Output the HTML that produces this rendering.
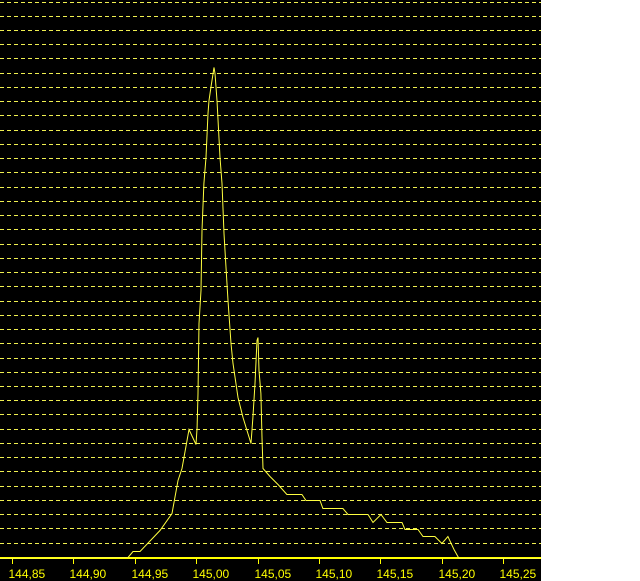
<!DOCTYPE html>
<html><head><meta charset="utf-8"><style>
html,body{margin:0;padding:0;background:#fff;width:640px;height:581px;overflow:hidden}
svg{display:block}
</style></head><body>
<svg id="chart" width="640" height="581" xmlns="http://www.w3.org/2000/svg">
<rect x="0" y="0" width="541" height="581" fill="#000"/>
<g id="grid"></g>
<g id="axis"></g>
<path id="trace" fill="none" stroke="#ffff40" stroke-width="1"/>
</svg>
<script>
const freqs = [144.84,144.9445,144.9485,144.9542,144.9705,144.9803,144.9852,144.9884,144.9941,144.9998,145.0007,145.0015,145.0023,145.0039,145.0047,145.0063,145.0080,145.0096,145.0104,145.0120,145.0145,145.0153,145.0169,145.0177,145.0194,145.0210,145.0226,145.0243,145.0259,145.0283,145.0300,145.0340,145.0381,145.0446,145.0462,145.0479,145.0495,145.0503,145.0511,145.0527,145.0536,145.0544,145.0601,145.0666,145.0739,145.0861,145.0894,145.1008,145.1032,145.1195,145.1236,145.1399,145.1440,145.1505,145.1554,145.1676,145.1700,145.1806,145.1847,145.1944,145.2001,145.2050,145.2099,145.2140,145.28];
const levels = [0,1,7,7,28,45,78,90,129,114,131,165,235,268,328,375,401,445,458,471,491,485,458,441,401,375,325,291,258,215,195,161,141,115,141,175,218,221,188,165,121,90,82,74,64,64,58,58,50,50,44,44,36,44,36,36,29,29,22,22,15,22,9,0,0];
const tickValues = [144.85,144.90,144.95,145.00,145.05,145.10,145.15,145.20,145.25];
const tickLabels = ["144,85","144,90","144,95","145,00","145,05","145,10","145,15","145,20","145,25"];

const NS="http://www.w3.org/2000/svg";
const xScale = f => 12 + (f-144.85)/0.05*61.4;
const yScale = v => 558 - v;

const grid=document.getElementById('grid');
for(let k=0;k<39;k++){
  const y=Math.round(1.5+14.24*k)+0.5;
  const l=document.createElementNS(NS,'line');
  
  
  l.setAttribute('x1',0);l.setAttribute('x2',541);l.setAttribute('y1',y);l.setAttribute('y2',y);
  l.setAttribute('stroke','#f0f050');l.setAttribute('stroke-dasharray','4 3');
  grid.appendChild(l);
}
const axis=document.getElementById('axis');
const base=document.createElementNS(NS,'rect');


base.setAttribute('x',0);base.setAttribute('y',557);base.setAttribute('width',541);base.setAttribute('height',2);base.setAttribute('fill','#ffff00');
axis.appendChild(base);
tickValues.forEach((t,i)=>{
  const x=Math.round(xScale(t))+0.5;
  const tk=document.createElementNS(NS,'line');
  
  
  tk.setAttribute('x1',x);tk.setAttribute('x2',x);tk.setAttribute('y1',559);tk.setAttribute('y2',564);tk.setAttribute('stroke','#ffff00');
  axis.appendChild(tk);
  const tx=document.createElementNS(NS,'text');
  
  
  tx.setAttribute('x',x-4);tx.setAttribute('y',578);tx.setAttribute('text-anchor','start');
  tx.setAttribute('fill','#ffff00');tx.setAttribute('font-family','Liberation Sans, sans-serif');tx.setAttribute('font-size','12');
  tx.textContent=tickLabels[i];
  axis.appendChild(tx);
});
let d='';
freqs.forEach((f,i)=>{d+=(i?'L':'M')+xScale(f).toFixed(1)+' '+(yScale(levels[i])+0.5).toFixed(1);});
document.getElementById('trace').setAttribute('d',d);
</script>
</body></html>
